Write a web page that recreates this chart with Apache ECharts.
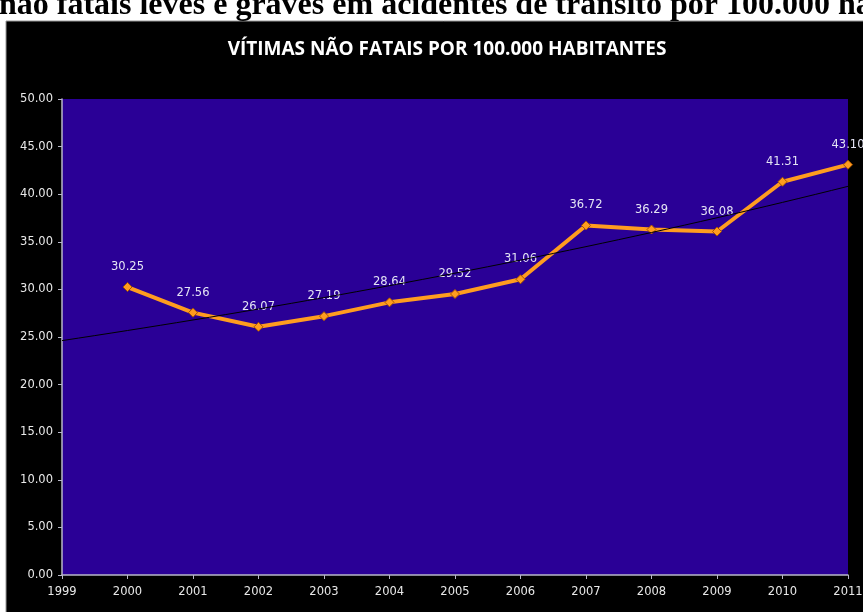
<!DOCTYPE html>
<html>
<head>
<meta charset="utf-8">
<script src="https://cdn.jsdelivr.net/npm/echarts@6/dist/echarts.min.js"></script>
<style>
  html, body { margin: 0; padding: 0; overflow: hidden; background: #fff; }
  #main { width: 880px; height: 612px; }
</style>
</head>
<body>
<div id="main"></div>
<script>
var years = [2000, 2001, 2002, 2003, 2004, 2005, 2006, 2007, 2008, 2009, 2010, 2011];
var vitimas = [30.25, 27.56, 26.07, 27.19, 28.64, 29.52, 31.06, 36.72, 36.29, 36.08, 41.31, 43.10];
var yTicks = [0, 5, 10, 15, 20, 25, 30, 35, 40, 45, 50];
var xMin = 1999, xMax = 2011;

var heading = 'não fatais leves e graves em acidentes de trânsito por 100.000 habitantes';
var titulo = 'VÍTIMAS NÃO FATAIS POR 100.000 HABITANTES';

// exponential trendline (like excel's), fitted on ln(y)
function expTrend(xs, ys) {
    var n = xs.length, sx = 0, sy = 0, sxy = 0, sxx = 0;
    for (var i = 0; i < n; i++) {
        var lx = xs[i] - xs[0], ly = Math.log(ys[i]);
        sx += lx; sy += ly; sxy += lx * ly; sxx += lx * lx;
    }
    var b = (n * sxy - sx * sy) / (n * sxx - sx * sx);
    var a = (sy - b * sx) / n;
    var pts = [];
    for (var t = xMin; t <= xMax + 1e-9; t += 0.25) {
        pts.push([t, Math.exp(a + b * (t - xs[0]))]);
    }
    return pts;
}

var chart = echarts.init(document.getElementById('main'));

var option = {
    backgroundColor: '#fff',
    animation: false,
    graphic: [
        {
            type: 'rect', z: -10, silent: true,
            shape: { x: 6, y: 21, width: 900, height: 620 },
            style: { fill: '#000', stroke: '#999', lineWidth: 1 }
        },
        {
            type: 'text', z: 10, silent: true,
            x: -1, y: 6,
            style: {
                text: heading,
                font: 'bold 32px "Liberation Serif"',
                fill: '#000',
                verticalAlign: 'middle'
            }
        }
    ],
    title: {
        text: titulo,
        left: 442, textAlign: 'center',
        top: 35,
        textStyle: { color: '#fff', fontSize: 19, fontWeight: 'bold', fontFamily: 'Open Sans' }
    },
    grid: {
        left: 62, top: 99, right: 32, bottom: 37,
        show: true, backgroundColor: '#2a0096', borderWidth: 0
    },
    xAxis: {
        type: 'value', min: xMin, max: xMax, interval: 1,
        axisLine: { lineStyle: { color: '#b8b8c8', width: 1.5 } },
        axisTick: { show: true, length: 4, lineStyle: { color: '#b8b8c8' } },
        axisLabel: {
            color: '#e8e8e8', fontSize: 11.5, fontFamily: 'DejaVu Sans', margin: 11,
            formatter: function (v) { return String(v); }
        },
        splitLine: { show: false }
    },
    yAxis: {
        type: 'value', min: yTicks[0], max: yTicks[yTicks.length - 1], interval: 5,
        axisLine: { show: true, lineStyle: { color: '#b8b8c8', width: 1.5 } },
        axisTick: { show: true, length: 4, lineStyle: { color: '#b8b8c8' } },
        axisLabel: {
            color: '#e8e8e8', fontSize: 11.5, fontFamily: 'DejaVu Sans', margin: 9,
            formatter: function (v) { return v.toFixed(2); }
        },
        splitLine: { show: false }
    },
    series: [
        {
            type: 'line', name: 'trend', z: 3,
            data: expTrend(years, vitimas),
            showSymbol: false, silent: true,
            lineStyle: { color: '#000', width: 1 }
        },
        {
            type: 'line', name: 'vitimas', z: 2,
            data: years.map(function (y, i) { return [y, vitimas[i]]; }),
            symbol: 'diamond', symbolSize: 9,
            lineStyle: { color: '#ff9c1f', width: 4 },
            itemStyle: { color: '#ff9c1f', borderColor: '#a85400', borderWidth: 1 },
            label: {
                show: true, position: 'top', distance: 9,
                color: '#e4e4f4', fontSize: 11.5, fontFamily: 'DejaVu Sans',
                formatter: function (p) { return p.value[1].toFixed(2); }
            }
        }
    ]
};

chart.setOption(option);
</script>
</body>
</html>
